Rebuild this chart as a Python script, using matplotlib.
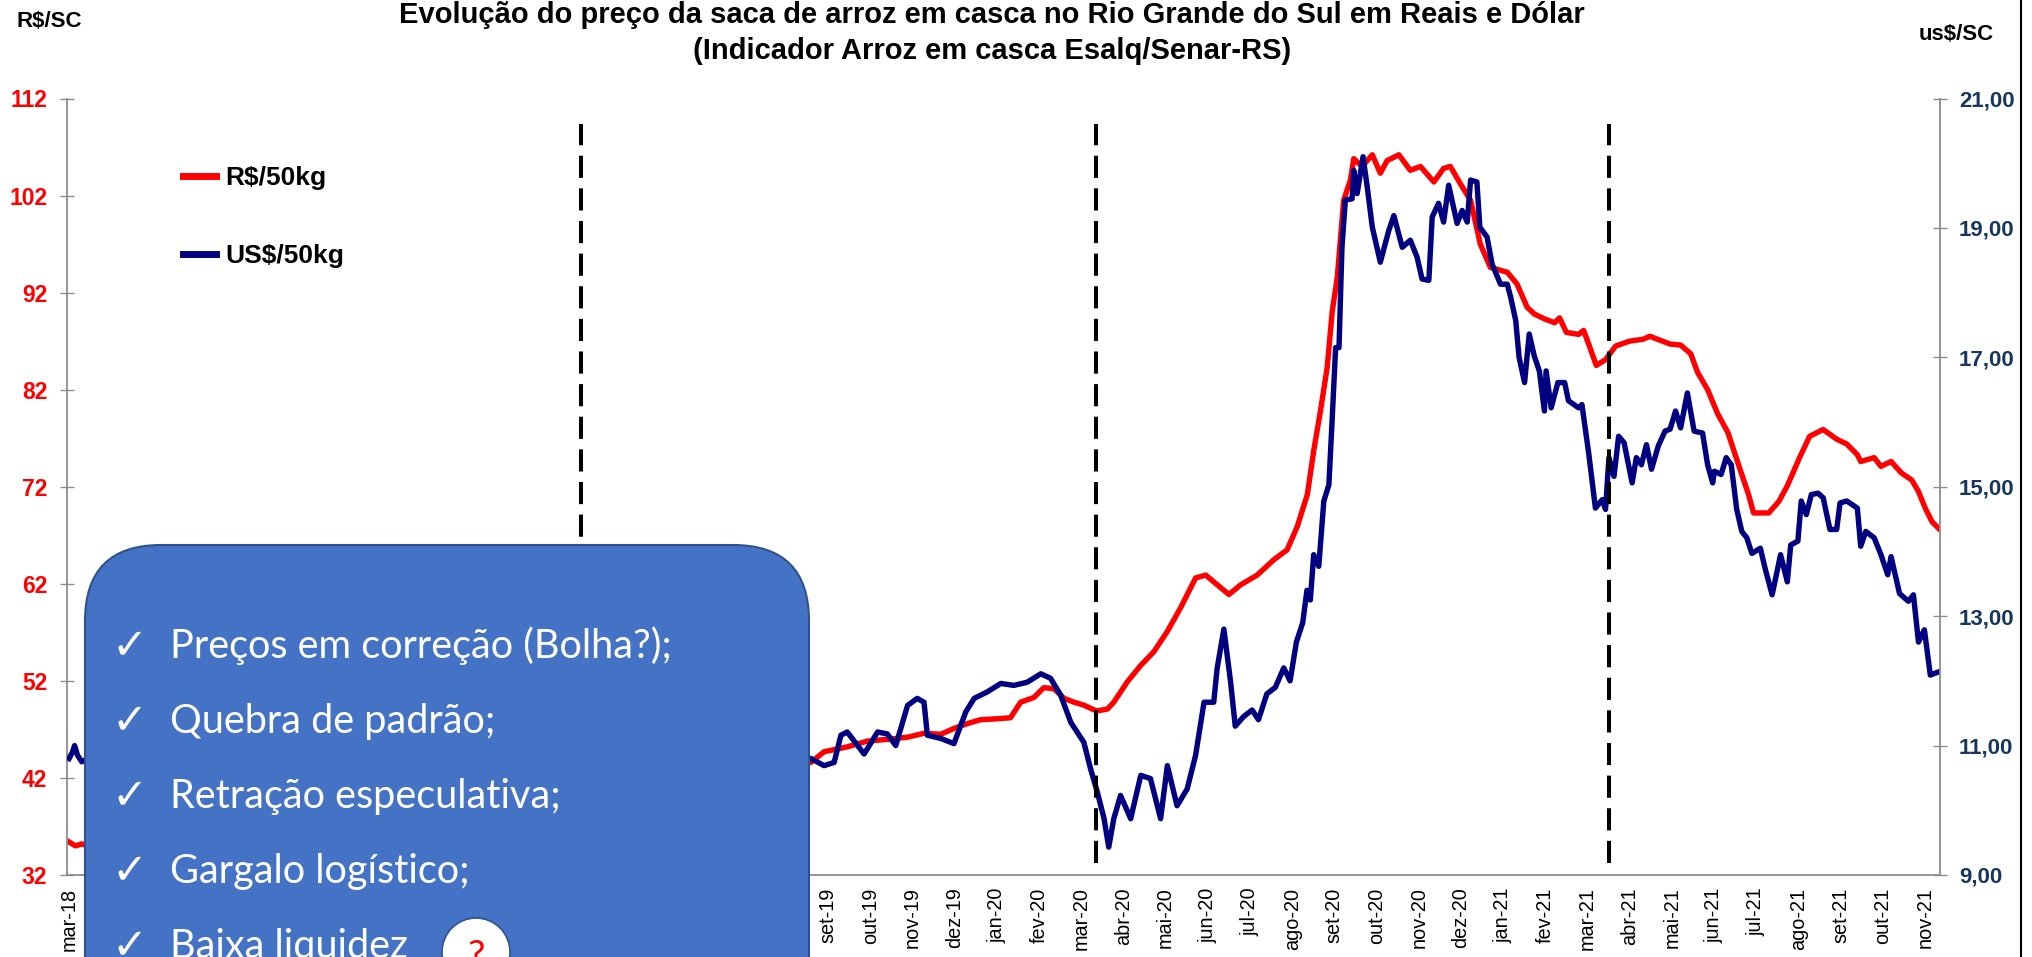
import matplotlib

matplotlib.use("Agg")

import matplotlib.pyplot as plt
from matplotlib.lines import Line2D
from matplotlib.patches import Circle, FancyBboxPatch

plt.rcParams["font.family"] = ["Liberation Sans", "DejaVu Sans"]

# x = months since mar-18 (0 = mar-18, 44 = nov-21)
brl_t = [0.0, 0.15, 0.3, 0.5, 0.8, 1.2, 1.8, 2.5, 3.2, 4.0, 4.8, 5.5, 6.3, 7.0, 7.8,
         8.6, 9.4, 10.2, 11.0, 11.8, 12.6, 13.4, 14.2, 15.0, 15.8, 16.6, 17.2,
         17.59, 17.90, 18.45, 18.93, 19.48, 19.88, 20.27, 20.67, 20.98, 21.30, 21.61,
         22.01, 22.32, 22.56, 22.88, 23.11, 23.35, 23.59, 23.83, 24.06, 24.36, 24.62,
         24.77, 25.09, 25.41, 25.72, 26.04, 26.35, 26.71, 26.95, 27.14, 27.50, 27.78,
         28.17, 28.57, 28.88, 29.12, 29.36, 29.51, 29.67, 29.83, 29.95, 30.07, 30.22,
         30.38, 30.46, 30.66, 30.90, 31.09, 31.25, 31.53, 31.80, 32.04, 32.36, 32.59,
         32.75, 32.99, 33.23, 33.46, 33.70, 34.10, 34.33, 34.57, 34.74, 34.98, 35.22,
         35.34, 35.50, 35.79, 35.91, 36.03, 36.21, 36.43, 36.67, 37.00, 37.32, 37.48,
         37.72, 37.96, 38.21, 38.45, 38.61, 38.85, 39.09, 39.33, 39.58, 39.82, 39.94,
         40.30, 40.54, 40.74, 40.86, 41.03, 41.27, 41.59, 41.91, 42.15, 42.40, 42.48,
         42.80, 42.96, 43.20, 43.45, 43.69, 43.85, 44.01, 44.17, 44.33]
brl_v = [35.4, 35.0, 35.2, 34.9, 35.3, 35.8, 36.4, 37.2, 38.0, 38.9, 39.6, 40.2, 40.7,
         41.2, 41.9, 42.6, 43.1, 42.8, 42.3, 41.9, 42.2, 41.8, 42.3, 42.9, 43.3, 43.6,
         43.4, 43.6, 44.7, 45.2, 45.8, 46.0, 46.2, 46.6, 46.5, 47.1, 47.6, 48.0, 48.1,
         48.2, 49.8, 50.3, 51.3, 51.2, 50.2, 49.8, 49.5, 48.9, 49.1, 49.8, 51.9, 53.6,
         55.0, 57.1, 59.5, 62.6, 62.9, 62.2, 60.9, 61.9, 62.9, 64.5, 65.5, 67.9, 71.2,
         75.7, 79.8, 84.3, 90.1, 93.6, 101.5, 103.6, 105.8, 105.0, 106.2, 104.3, 105.6,
         106.2, 104.6, 105.0, 103.4, 104.8, 105.0, 103.2, 101.5, 97.0, 94.6, 94.1, 92.9,
         90.5, 89.8, 89.3, 88.9, 89.4, 87.9, 87.7, 88.1, 86.7, 84.5, 85.1, 86.5, 87.0,
         87.2, 87.5, 87.1, 86.7, 86.6, 85.7, 83.8, 82.0, 79.5, 77.6, 74.3, 71.2, 69.3,
         69.3, 70.5, 72.1, 73.3, 75.0, 77.2, 77.9, 76.9, 76.4, 75.3, 74.6, 75.0, 74.1,
         74.6, 73.4, 72.7, 71.5, 69.8, 68.4, 67.7]

usd_t = [0.0, 0.08, 0.13, 0.2, 0.3, 0.45, 0.7, 1.0, 1.5, 2.0, 2.6, 3.2, 3.8, 4.4, 5.0,
         5.6, 6.2, 6.8, 7.4, 8.0, 8.6, 9.2, 9.8, 10.4, 11.0, 11.6, 12.2, 12.8, 13.4,
         14.0, 14.6, 15.2, 15.8, 16.4, 17.0,
         17.59, 17.90, 18.14, 18.30, 18.45, 18.85, 19.17, 19.40, 19.60, 19.88, 20.11,
         20.27, 20.35, 20.67, 20.98, 21.26, 21.46, 21.77, 22.09, 22.40, 22.72, 23.04,
         23.27, 23.51, 23.75, 24.06, 24.22, 24.38, 24.54, 24.65, 24.77, 24.93, 25.17,
         25.41, 25.64, 25.88, 26.04, 26.27, 26.51, 26.71, 26.91, 27.14, 27.22, 27.38,
         27.54, 27.65, 27.85, 28.05, 28.2, 28.4, 28.6, 28.8, 28.95, 29.1, 29.25, 29.35,
         29.43, 29.51, 29.63, 29.75, 29.87, 29.95, 30.03, 30.11, 30.18, 30.26, 30.42,
         30.46, 30.54, 30.68, 30.78, 30.90, 31.09, 31.29, 31.41, 31.61, 31.80, 31.96,
         32.08, 32.24, 32.32, 32.47, 32.59, 32.71, 32.91, 33.03, 33.15, 33.23, 33.38,
         33.45, 33.62, 33.74, 33.94, 34.10, 34.18, 34.30, 34.38, 34.51, 34.62, 34.74,
         34.86, 34.98, 35.02, 35.14, 35.30, 35.46, 35.55, 35.79, 35.87, 36.03, 36.19,
         36.35, 36.43, 36.51, 36.63, 36.74, 36.87, 37.06, 37.16, 37.28, 37.40, 37.52,
         37.68, 37.84, 37.96, 38.09, 38.21, 38.37, 38.53, 38.73, 38.85, 38.97, 39.01,
         39.17, 39.29, 39.41, 39.54, 39.66, 39.78, 39.90, 40.10, 40.22, 40.38, 40.58,
         40.74, 40.82, 40.99, 41.07, 41.19, 41.31, 41.47, 41.59, 41.75, 41.91, 41.99,
         42.15, 42.40, 42.48, 42.60, 42.80, 42.96, 43.12, 43.20, 43.40, 43.61, 43.73,
         43.85, 43.99, 44.13, 44.33]
usd_v = [10.8, 10.9, 11.0, 10.85, 10.75, 10.8, 10.9, 10.75, 10.6, 10.35, 10.0, 9.7, 9.8,
         10.0, 10.15, 9.9, 10.1, 10.6, 11.0, 11.2, 11.1, 11.3, 11.0, 10.9, 10.8, 11.0,
         10.9, 10.7, 11.1, 11.3, 11.0, 10.8, 10.6, 10.9, 10.8,
         10.80, 10.69, 10.74, 11.16, 11.21, 10.87, 11.21, 11.18, 11.00, 11.62, 11.73,
         11.67, 11.16, 11.11, 11.03, 11.52, 11.73, 11.83, 11.96, 11.93, 11.98, 12.11,
         12.04, 11.78, 11.36, 11.05, 10.64, 10.28, 9.87, 9.43, 9.87, 10.23, 9.87,
         10.54, 10.49, 9.87, 10.69, 10.07, 10.33, 10.85, 11.67, 11.67, 12.19, 12.8,
         11.98, 11.3, 11.45, 11.55, 11.4, 11.8, 11.9, 12.2, 12.0, 12.6, 12.9, 13.4,
         13.25, 13.95, 13.77, 14.78, 15.03, 16.07, 17.15, 17.15, 18.70, 19.43, 19.45,
         19.89, 19.53, 20.10, 19.63, 19.01, 18.47, 18.96, 19.19, 18.70, 18.81, 18.55,
         18.21, 18.19, 19.17, 19.38, 19.09, 19.66, 19.07, 19.27, 19.09, 19.74, 19.71,
         19.01, 18.86, 18.44, 18.13, 18.13, 17.93, 17.57, 17.00, 16.61, 17.36, 17.02,
         16.79, 16.17, 16.79, 16.22, 16.61, 16.61, 16.33, 16.22, 16.27, 15.52, 14.67,
         14.80, 14.65, 15.45, 15.16, 15.78, 15.68, 15.06, 15.45, 15.34, 15.65, 15.27,
         15.63, 15.86, 15.89, 16.17, 15.91, 16.45, 15.86, 15.83, 15.34, 15.06, 15.24,
         15.19, 15.45, 15.34, 14.65, 14.31, 14.21, 13.97, 14.05, 13.72, 13.33, 13.95,
         13.53, 14.10, 14.16, 14.78, 14.57, 14.88, 14.90, 14.83, 14.34, 14.34, 14.75,
         14.78, 14.67, 14.08, 14.31, 14.21, 13.95, 13.64, 13.92, 13.35, 13.23, 13.33,
         12.60, 12.79, 12.09, 12.14]

event_t = [12.13, 24.36, 36.52]

month_names = ["jan", "fev", "mar", "abr", "mai", "jun",
               "jul", "ago", "set", "out", "nov", "dez"]
tick_labels = [f"{month_names[(m + 2) % 12]}-{18 + (m + 2) // 12}" for m in range(45)]
left_ticks = list(range(32, 113, 10))
right_ticks = list(range(9, 22, 2))

bullets = ["Preços em correção (Bolha?);", "Quebra de padrão;", "Retração especulativa;",
           "Gargalo logístico;", "Baixa liquidez"]

RED = "#FF0000"
NAVY = "#000080"
AXIS_BLUE = "#17365D"
GRID = "#8C8C8C"

W, H = 2033, 957
fig = plt.figure(figsize=(W / 100, H / 100), dpi=100)
ax = fig.add_axes([67 / W, 1 - 875 / H, (1940 - 67) / W, (875 - 98.5) / H])
ax2 = ax.twinx()

ax.plot(brl_t, brl_v, color=RED, lw=3.9, solid_joinstyle="round")
ax2.plot(usd_t, usd_v, color=NAVY, lw=3.9, solid_joinstyle="round")
for t in event_t:
    ax2.axvline(t, ymin=0.0155, ymax=0.967, color="black", lw=2.9, dashes=(5.5, 2.6), zorder=5)

ax.set_xlim(-0.05, 44.36)
ax.set_ylim(32, 112)
ax2.set_ylim(9, 21)

ax.set_xticks(range(len(tick_labels)))
ax.set_xticklabels(tick_labels, rotation=90, fontsize=14.3)
ax.tick_params(axis="x", length=0, pad=9)

ax.set_yticks(left_ticks)
ax.set_yticklabels([str(v) for v in left_ticks], fontsize=16.5, fontweight="bold", color=RED)
ax.tick_params(axis="y", direction="inout", length=10, width=1, color=GRID, pad=9.2)

ax2.set_yticks(right_ticks)
ax2.set_yticklabels([f"{v},00" for v in right_ticks], fontsize=16, fontweight="bold", color=AXIS_BLUE)
ax2.tick_params(axis="y", direction="inout", length=10, width=1, color=GRID, pad=8.7)

for a in (ax, ax2):
    a.spines["top"].set_visible(False)
    for s in ("left", "bottom", "right"):
        a.spines[s].set_color(GRID)
        a.spines[s].set_linewidth(1.3)
ax.spines["right"].set_visible(False)
ax2.spines["left"].set_visible(False)
ax2.spines["bottom"].set_visible(False)

handles = [Line2D([], [], color=RED, lw=5), Line2D([], [], color=NAVY, lw=5)]
ax2.legend(handles, ["R$/50kg", "US$/50kg"], loc="upper left",
           bbox_to_anchor=(183 / W, 1 - 166 / H), bbox_transform=fig.transFigure,
           frameon=False, borderpad=0, borderaxespad=0, handlelength=1.25,
           handletextpad=0.35, labelspacing=2.05,
           prop={"family": "Liberation Sans", "weight": "bold", "size": 19})

fig.text(992 / W, 1 - 23 / H,
         "Evolução do preço da saca de arroz em casca no Rio Grande do Sul em Reais e Dólar",
         ha="center", va="baseline", fontsize=21, fontweight="bold")
fig.text(992 / W, 1 - 59 / H, "(Indicador Arroz em casca Esalq/Senar-RS)",
         ha="center", va="baseline", fontsize=21, fontweight="bold")
fig.text(16 / W, 1 - 27 / H, "R$/SC", ha="left", va="baseline", fontsize=16, fontweight="bold")
fig.text(1919 / W, 1 - 40 / H, "us$/SC", ha="left", va="baseline", fontsize=16, fontweight="bold")

# overlay in pixel coordinates for the callout box
ov = fig.add_axes([0, 0, 1, 1], zorder=10)
ov.set_xlim(0, W)
ov.set_ylim(H, 0)
ov.axis("off")
ov.add_patch(FancyBboxPatch((85, 545), 724, 600, boxstyle="round,pad=0,rounding_size=76",
                            fc="#4472C4", ec="#2F528F", lw=1.5))
for i, txt in enumerate(bullets):
    y = 658 + 75 * i
    ov.text(130, y, "\u2713", family="DejaVu Sans", fontsize=31, color="white",
            ha="center", va="baseline")
    ov.text(170, y, txt, family="Lato", fontsize=28.5, color="white", ha="left", va="baseline")
ov.add_patch(Circle((476, 952), 34, fc="white", ec="#2F528F", lw=1.2))
ov.text(476, 968, "?", family="Lato", fontsize=28, color=RED, ha="center", va="baseline")
ov.plot([2021, 2021], [0, H], color="black", lw=1.5)

fig.savefig("out.png", dpi=100)
